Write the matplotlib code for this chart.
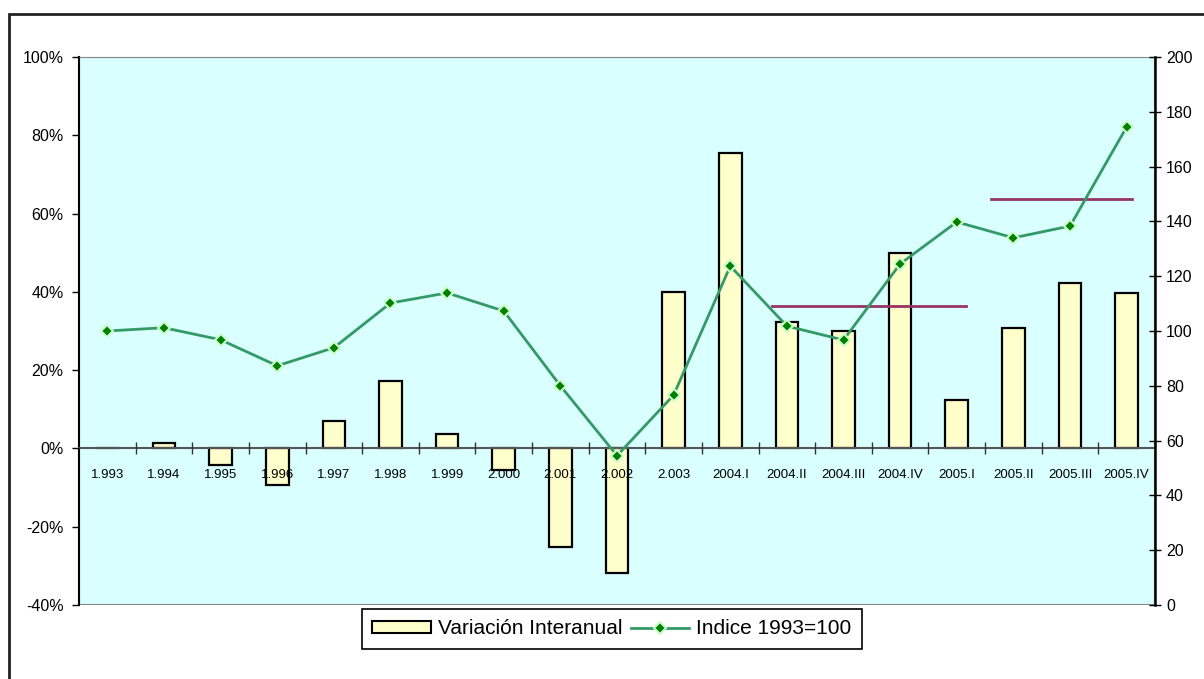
import matplotlib
matplotlib.use("Agg")
import matplotlib.pyplot as plt
from matplotlib.patches import Rectangle, Patch
from matplotlib.lines import Line2D
from matplotlib.ticker import FuncFormatter, FixedLocator
import numpy as np

plt.rcParams['font.family'] = ['Liberation Sans', 'DejaVu Sans']

categories = ["1.993", "1.994", "1.995", "1.996", "1.997", "1.998", "1.999", "2.000",
              "2.001", "2.002", "2.003", "2004.I", "2004.II", "2004.III", "2004.IV",
              "2005.I", "2005.II", "2005.III", "2005.IV"]
variacion = [0.0, 1.5, -4.3, -9.4, 7.0, 17.3, 3.6, -5.6, -25.2, -31.8, 40.0, 75.4,
             32.4, 30.0, 49.9, 12.5, 30.8, 42.3, 39.7]
indice = [100.0, 101.2, 96.8, 87.3, 93.9, 110.2, 113.9, 107.3, 80.0, 54.5, 76.6,
          123.7, 101.8, 96.7, 124.5, 139.8, 134.0, 138.3, 174.5]
# average reference lines (right axis value, x-start, x-end in category index units)
avg_levels = [109.1, 148.2]
avg_start = [11.74, 15.60]
avg_end = [15.17, 18.10]

left_ticks = [-40, -20, 0, 20, 40, 60, 80, 100]
right_ticks = [0, 20, 40, 60, 80, 100, 120, 140, 160, 180, 200]

W, H = 1204, 679
fig = plt.figure(figsize=(W / 100, H / 100), dpi=100)
fig.patch.set_facecolor('white')

L, R, T, B = 79, 1155, 57, 605
ax = fig.add_axes([L / W, 1 - B / H, (R - L) / W, (B - T) / H])
ax.set_facecolor('#d9ffff')
x = np.arange(len(categories))

ax.bar(x, variacion, width=0.4, color='#ffffcc', edgecolor='black', linewidth=1.6, zorder=1.5)
ax.set_axisbelow(False)
ax.set_xlim(-0.5, len(categories) - 0.5)
ax.set_ylim(-40, 100)
ax.yaxis.set_major_locator(FixedLocator(left_ticks))
ax.yaxis.set_major_formatter(FuncFormatter(lambda v, p: f"{int(v)}%"))
ax.tick_params(axis='y', direction='out', length=5, width=1, pad=6, labelsize=11.5, colors='black')

# x axis on zero line
ax.spines['bottom'].set_position(('data', 0))
ax.spines['bottom'].set_color('#555555')
ax.spines['bottom'].set_linewidth(1.5)
ax.set_xticks(x)
ax.set_xticklabels(categories)
ax.set_xticks(np.arange(len(categories) - 1) + 0.5, minor=True)
ax.tick_params(axis='x', which='major', length=0, pad=15, labelsize=9.5)
ax.tick_params(axis='x', which='minor', direction='inout', length=8, width=1, color='#333333')
ax.spines['top'].set_color('#888888')
ax.spines['left'].set_linewidth(1.5)
ax.spines['right'].set_visible(False)
# bottom border of plot area
ax.add_patch(Rectangle((0, 0), 1, 1, transform=ax.transAxes, fill=False,
                       edgecolor='#888888', linewidth=1.5, zorder=0.5))

ax2 = ax.twinx()
ax2.set_ylim(0, 200)
ax2.yaxis.set_major_locator(FixedLocator(right_ticks))
ax2.tick_params(axis='y', direction='inout', length=8, width=1, pad=4, labelsize=11.5)
for s in ['top', 'left', 'bottom']:
    ax2.spines[s].set_visible(False)
ax2.spines['right'].set_linewidth(1.8)

for lvl, s, e in zip(avg_levels, avg_start, avg_end):
    ax2.plot([s, e], [lvl, lvl], color='#993366', linewidth=2, zorder=2)

ax2.plot(x, indice, color='#339966', linewidth=2, marker='D', markersize=6.5,
         markerfacecolor='#008000', markeredgecolor='#ccffcc', markeredgewidth=1.5, zorder=5)

# outer frame
fig.add_artist(Rectangle((9 / W, -0.2), 2, 1.2 - 14 / H, transform=fig.transFigure,
                         fill=False, edgecolor='#222222', linewidth=2))

handles = [Patch(facecolor='#ffffcc', edgecolor='black', linewidth=1.5),
           Line2D([], [], color='#339966', linewidth=2, marker='D', markersize=6,
                  markerfacecolor='#008000', markeredgecolor='#ccffcc', markeredgewidth=1.5)]
leg = fig.legend(handles, ["Variación Interanual", "Indice 1993=100"], ncol=2,
                 loc='upper center', bbox_to_anchor=(612 / W, 1 - 609 / H),
                 frameon=True, fancybox=False, edgecolor='black', framealpha=1,
                 fontsize=15, handlelength=2.8, handleheight=0.5, columnspacing=0.4,
                 handletextpad=0.35, borderpad=0.5, borderaxespad=0)
leg.get_frame().set_linewidth(1.2)

fig.savefig('out.png', dpi=100)
